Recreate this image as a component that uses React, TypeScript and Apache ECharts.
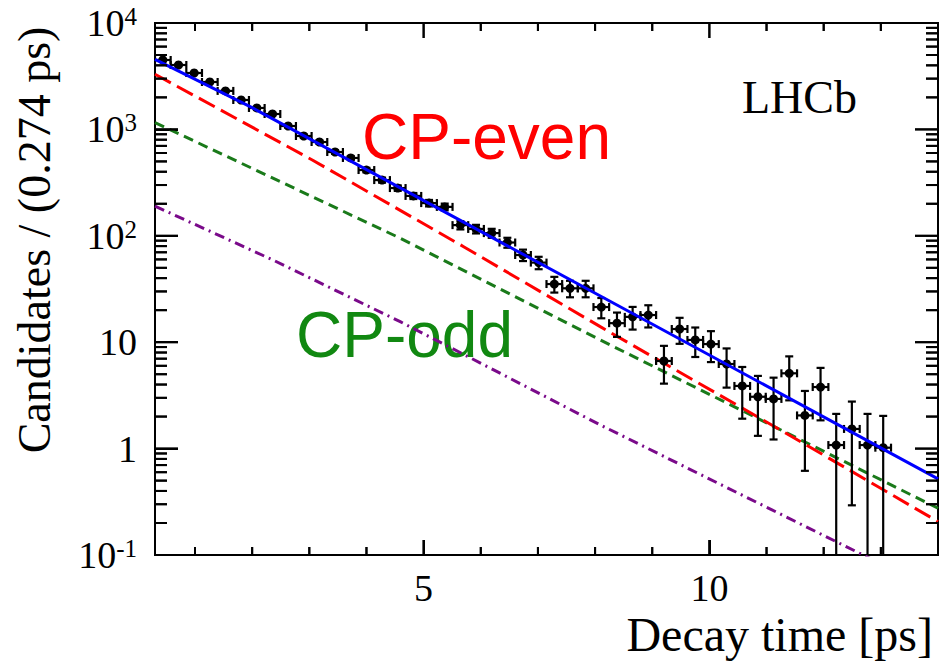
import React, { useEffect, useRef } from "react";
import * as echarts from "echarts";

// Bin centres of decay time [ps] (bin width 0.274 ps)
const binCenters = [
  0.437, 0.711, 0.985, 1.259, 1.533, 1.807, 2.081, 2.355, 2.629, 2.903,
  3.177, 3.451, 3.725, 3.999, 4.273, 4.547, 4.821, 5.095, 5.369, 5.643,
  5.917, 6.191, 6.465, 6.739, 7.013, 7.287, 7.561, 7.835, 8.109, 8.383,
  8.657, 8.931, 9.205, 9.479, 9.753, 10.027, 10.301, 10.575, 10.849, 11.123,
  11.397, 11.671, 11.945, 12.219, 12.493, 12.767, 13.041,
];
// Candidates per bin
const candidates = [
  4490, 4030, 3390, 2790, 2300, 1890, 1590, 1395, 1076, 867,
  761, 613, 539, 415, 334, 281, 237, 203, 187, 126,
  116, 106, 86.5, 66, 56, 35.2, 32.1, 32.1, 21.4, 15.1,
  17.3, 18.0, 6.66, 13.3, 10.5, 9.6, 6.24, 3.88, 3.07, 2.93,
  5.1, 2.05, 3.79, 1.08, 1.53, 1.08, 1.02,
];
const binWidth = 0.274;

// Fit curves
const totalT = [0.3, 2.0, 8.1, 14.0];
const totalV = [4550, 1600, 27, 0.52];
const cpEvenT = [0.3, 3.06, 5.7, 8.09, 11.24, 14.0];
const cpEvenV = [3300, 513, 79, 14, 1.5, 0.206];
const cpOddT = [0.3, 4.59, 8.09, 14.0];
const cpOddV = [1160, 95, 10.5, 0.275];
const bkgT = [0.3, 2.37, 4.59, 8.09, 12.58, 14.0];
const bkgV = [190, 59, 15.6, 1.67, 0.107, 0.045];

// Axis ticks
const xMajorTicks = [5, 10];
const xMinorTicks = [1, 2, 3, 4, 6, 7, 8, 9, 11, 12, 13];
const yMajorTicks = [0.1, 1, 10, 100, 1000, 10000];
const yMinorMultipliers = [2, 3, 4, 5, 6, 7, 8, 9];

const X_MIN = 0.3;
const X_MAX = 14.0;
const Y_MIN = 0.1;
const Y_MAX = 10000;

const SERIF = "'Liberation Serif', 'Times New Roman', serif";
const SANS = "'Liberation Sans', Arial, sans-serif";

export default function App() {
  const ref = useRef<HTMLDivElement>(null);
  useEffect(() => {
    document.body.style.margin = "0";
    if (!ref.current) return;
    const chart = echarts.init(ref.current, undefined, { renderer: "svg" });

    const yMinorTicks: number[] = [];
    yMajorTicks.slice(0, -1).forEach((d) => yMinorMultipliers.forEach((m) => yMinorTicks.push(m * d)));

    const pts = binCenters.map((t, i) => [t, candidates[i], Math.sqrt(candidates[i])]);
    const pair = (ts: number[], vs: number[]) => ts.map((t, i) => [t, vs[i]]);

    const yTickData = [
      ...yMajorTicks.map((v) => [X_MIN, v, 1]),
      ...yMinorTicks.map((v) => [X_MIN, v, 0]),
    ];
    const xTickData = [
      ...xMajorTicks.map((t) => [t, Y_MIN, 1]),
      ...xMinorTicks.map((t) => [t, Y_MIN, 0]),
    ];

    const texts: any[] = [
      {
        type: "text",
        x: 34,
        y: 240,
        rotation: Math.PI / 2,
        style: {
          text: "Candidates / (0.274 ps)",
          font: `46px ${SERIF}`,
          fill: "#000",
          textAlign: "center",
          textVerticalAlign: "middle",
        },
      },
      {
        type: "text",
        x: 933,
        y: 634,
        style: {
          text: "Decay time [ps]",
          font: `48px ${SERIF}`,
          fill: "#000",
          textAlign: "right",
          textVerticalAlign: "middle",
        },
      },
      {
        type: "text",
        x: 742,
        y: 97,
        style: { text: "LHCb", font: `46px ${SERIF}`, fill: "#000", textAlign: "left", textVerticalAlign: "middle" },
      },
      {
        type: "text",
        x: 362,
        y: 137,
        style: { text: "CP-even", font: `64px ${SANS}`, fill: "#ff0000", textAlign: "left", textVerticalAlign: "middle" },
      },
      {
        type: "text",
        x: 296,
        y: 335,
        style: { text: "CP-odd", font: `64px ${SANS}`, fill: "#118811", textAlign: "left", textVerticalAlign: "middle" },
      },
    ];

    const option: any = {
      animation: false,
      grid: {
        left: 155,
        right: 5,
        top: 23,
        bottom: 108,
        show: true,
        borderColor: "#000",
        borderWidth: 2,
        backgroundColor: "transparent",
      },
      xAxis: {
        type: "value",
        min: X_MIN,
        max: X_MAX,
        splitLine: { show: false },
        axisLine: { show: true, onZero: false, lineStyle: { color: "#000", width: 2 } },
        axisTick: { show: true, inside: true, length: 15, customValues: xMajorTicks, lineStyle: { color: "#000", width: 2 } },
        axisLabel: { show: true, customValues: xMajorTicks, fontSize: 38, fontFamily: SERIF, color: "#000", margin: 14 },
      },
      yAxis: {
        type: "log",
        logBase: 10,
        min: Y_MIN,
        max: Y_MAX,
        splitLine: { show: false },
        axisLine: { show: true, onZero: false, lineStyle: { color: "#000", width: 2 } },
        axisTick: { show: true, inside: true, length: 23, lineStyle: { color: "#000", width: 2 } },
        axisLabel: {
          show: true,
          margin: 18,
          formatter: (v: number) => {
            const e = Math.round(Math.log10(v));
            if (e === 0) return "{b|1}";
            if (e === 1) return "{b|10}";
            return `{b|10}{s|${e}}`;
          },
          rich: {
            b: { fontSize: 38, fontFamily: SERIF, color: "#000" },
            s: { fontSize: 25, fontFamily: SERIF, color: "#000", verticalAlign: "top" },
          },
        },
      },
      series: [
        {
          name: "Purple",
          type: "line",
          data: pair(bkgT, bkgV),
          showSymbol: false,
          clip: true,
          lineStyle: { color: "#7a0a8a", width: 3, type: [10, 5, 2, 5] },
          z: 2,
        },
        {
          name: "CP-odd",
          type: "line",
          data: pair(cpOddT, cpOddV),
          showSymbol: false,
          clip: true,
          lineStyle: { color: "#1a7a1a", width: 3, type: [10, 6] },
          z: 2,
        },
        {
          name: "CP-even",
          type: "line",
          data: pair(cpEvenT, cpEvenV),
          showSymbol: false,
          clip: true,
          lineStyle: { color: "#ff0000", width: 3, type: [18, 7] },
          z: 2,
        },
        {
          name: "Data",
          type: "custom",
          data: pts,
          encode: { x: 0, y: 1 },
          clip: true,
          z: 3,
          renderItem: (params: any, api: any) => {
            const t = api.value(0) as number;
            const v = api.value(1) as number;
            const e = api.value(2) as number;
            const hw = binWidth / 2;
            const c = api.coord([t, v]);
            const l = api.coord([t - hw, v]);
            const r = api.coord([t + hw, v]);
            const bottomPx = params.coordSys.y + params.coordSys.height;
            const lowV = v - e;
            const lo = lowV > Y_MIN ? api.coord([t, lowV])[1] : bottomPx;
            const hi = api.coord([t, v + e])[1];
            const st = { stroke: "#000", lineWidth: 2.2 };
            const cap = 4;
            const ch: any[] = [
              { type: "line", shape: { x1: l[0], y1: c[1], x2: r[0], y2: c[1] }, style: st },
              { type: "line", shape: { x1: l[0], y1: c[1] - cap, x2: l[0], y2: c[1] + cap }, style: st },
              { type: "line", shape: { x1: r[0], y1: c[1] - cap, x2: r[0], y2: c[1] + cap }, style: st },
              { type: "line", shape: { x1: c[0], y1: lo, x2: c[0], y2: hi }, style: st },
              { type: "line", shape: { x1: c[0] - cap, y1: hi, x2: c[0] + cap, y2: hi }, style: st },
            ];
            if (lowV > Y_MIN) {
              ch.push({ type: "line", shape: { x1: c[0] - cap, y1: lo, x2: c[0] + cap, y2: lo }, style: st });
            }
            ch.push({ type: "circle", shape: { cx: c[0], cy: c[1], r: 4.5 }, style: { fill: "#000" } });
            return { type: "group", children: ch };
          },
        },
        {
          name: "Total",
          type: "line",
          data: pair(totalT, totalV),
          showSymbol: false,
          clip: true,
          lineStyle: { color: "#0000ff", width: 3 },
          z: 4,
        },
        {
          name: "yTicks",
          type: "custom",
          data: yTickData,
          encode: { x: 0, y: 1 },
          clip: false,
          z: 6,
          renderItem: (params: any, api: any) => {
            const p = api.coord([api.value(0), api.value(1)]);
            const cs = params.coordSys;
            const len = api.value(2) ? 23 : 12;
            return {
              type: "group",
              children: [
                { type: "line", shape: { x1: cs.x, y1: p[1], x2: cs.x + len, y2: p[1] }, style: { stroke: "#000", lineWidth: 2 } },
                { type: "line", shape: { x1: cs.x + cs.width - len, y1: p[1], x2: cs.x + cs.width, y2: p[1] }, style: { stroke: "#000", lineWidth: 2 } },
              ],
            };
          },
        },
        {
          name: "xTicks",
          type: "custom",
          data: xTickData,
          encode: { x: 0, y: 1 },
          clip: false,
          z: 6,
          renderItem: (params: any, api: any) => {
            const p = api.coord([api.value(0), api.value(1)]);
            const cs = params.coordSys;
            const len = api.value(2) ? 15 : 8;
            return {
              type: "group",
              children: [
                { type: "line", shape: { x1: p[0], y1: cs.y + cs.height, x2: p[0], y2: cs.y + cs.height - len }, style: { stroke: "#000", lineWidth: 2 } },
                { type: "line", shape: { x1: p[0], y1: cs.y, x2: p[0], y2: cs.y + len }, style: { stroke: "#000", lineWidth: 2 } },
              ],
            };
          },
        },
      ],
      graphic: texts,
    };
    chart.setOption(option);

    // Redundant tick marks placed through the chart's own scales
    const left = chart.convertToPixel({ xAxisIndex: 0 }, X_MIN) as number;
    const right = chart.convertToPixel({ xAxisIndex: 0 }, X_MAX) as number;
    const bottom = chart.convertToPixel({ yAxisIndex: 0 }, Y_MIN) as number;
    const top = chart.convertToPixel({ yAxisIndex: 0 }, Y_MAX) as number;
    const gl: any[] = [];
    const tickLine = (x1: number, y1: number, x2: number, y2: number) =>
      gl.push({ type: "line", z: 100, shape: { x1, y1, x2, y2 }, style: { stroke: "#000", lineWidth: 2 } });
    const yTicks: [number, number][] = [
      ...yMajorTicks.map((v) => [v, 23] as [number, number]),
      ...yMinorTicks.map((v) => [v, 12] as [number, number]),
    ];
    yTicks.forEach(([v, len]) => {
      const y = chart.convertToPixel({ yAxisIndex: 0 }, v) as number;
      if (!isFinite(y)) return;
      tickLine(left, y, left + len, y);
      tickLine(right - len, y, right, y);
    });
    const xTicks: [number, number][] = [
      ...xMajorTicks.map((t) => [t, 15] as [number, number]),
      ...xMinorTicks.map((t) => [t, 8] as [number, number]),
    ];
    xTicks.forEach(([t, len]) => {
      const x = chart.convertToPixel({ xAxisIndex: 0 }, t) as number;
      if (!isFinite(x)) return;
      tickLine(x, bottom, x, bottom - len);
      tickLine(x, top, x, top + len);
    });
    chart.setOption({ graphic: [...texts, ...gl] });

    return () => chart.dispose();
  }, []);
  return <div ref={ref} style={{ width: 943, height: 663 }} />;
}
